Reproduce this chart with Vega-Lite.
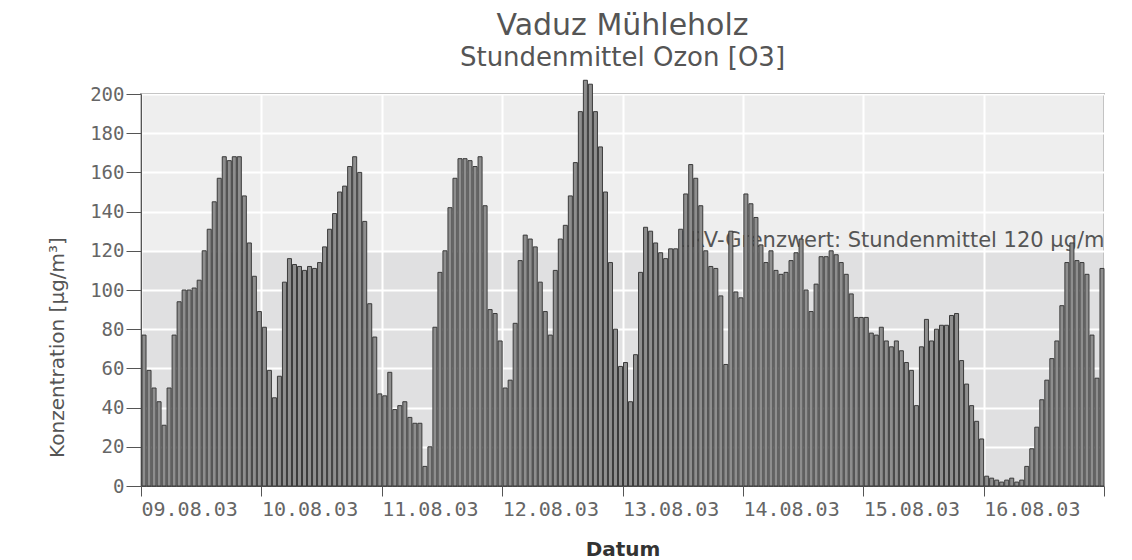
{
  "$schema": "https://vega.github.io/schema/vega-lite/v6.json",
  "width": 963,
  "height": 392,
  "autosize": {"type": "none"},
  "padding": {"left": 141, "top": 94, "right": 28, "bottom": 74},
  "background": "white",
  "title": {
    "text": "Vaduz Mühleholz",
    "subtitle": "Stundenmittel Ozon [O3]",
    "anchor": "middle",
    "font": "DejaVu Sans",
    "fontSize": 30,
    "fontWeight": "normal",
    "color": "#555555",
    "subtitleFont": "DejaVu Sans",
    "subtitleFontSize": 26,
    "subtitleColor": "#555555",
    "subtitlePadding": 4,
    "offset": 9
  },
  "config": {
    "font": "DejaVu Sans",
    "view": {
      "fill": {"gradient": "linear", "x1": 0, "y1": 0, "x2": 0, "y2": 1,
        "stops": [
          {"offset": 0, "color": "#eeeeee"},
          {"offset": 0.4, "color": "#eeeeee"},
          {"offset": 0.4, "color": "#e0e0e1"},
          {"offset": 1, "color": "#e0e0e1"}
        ]},
      "stroke": "#666666",
      "strokeWidth": 1.5
    }
  },
  "encoding": {
    "x": {
      "field": "t", "type": "temporal", "timeUnit": "yearmonthdatehours", "title": "Datum",
      "scale": {"domain": [{"year": 2003, "month": 8, "date": 9}, {"year": 2003, "month": 8, "date": 17}], "nice": false},
      "axis": {
        "values": [
          {"year": 2003, "month": 8, "date": 9}, {"year": 2003, "month": 8, "date": 10},
          {"year": 2003, "month": 8, "date": 11}, {"year": 2003, "month": 8, "date": 12},
          {"year": 2003, "month": 8, "date": 13}, {"year": 2003, "month": 8, "date": 14},
          {"year": 2003, "month": 8, "date": 15}, {"year": 2003, "month": 8, "date": 16},
          {"year": 2003, "month": 8, "date": 17}
        ],
        "format": "%d.%m.%y",
        "labelExpr": "date(datum.value) == 17 ? '' : timeFormat(datum.value, '%d.%m.%y')",
        "labelAlign": "left",
        "labelBaseline": "top",
        "labelPadding": 3,
        "labelFont": "DejaVu Sans Mono",
        "labelFontSize": 20,
        "labelColor": "#666666",
        "labelFlush": false,
        "labelOverlap": false,
        "tickSize": 10,
        "tickColor": "#555555",
        "domainColor": "#555555",
        "grid": true,
        "gridColor": "#ffffff",
        "gridWidth": 2,
        "titleFontSize": 20,
        "titleFontWeight": "bold",
        "titleColor": "#333333",
        "titlePadding": 20
      }
    },
    "y": {
      "field": "v", "type": "quantitative", "title": "Konzentration [µg/m³]",
      "scale": {"domain": [0, 200], "nice": false},
      "axis": {
        "values": [0, 20, 40, 60, 80, 100, 120, 140, 160, 180, 200],
        "labelOverlap": false,
        "tickSize": 15,
        "tickColor": "#555555",
        "domainColor": "#555555",
        "labelFont": "DejaVu Sans Mono",
        "labelFontSize": 19,
        "labelColor": "#666666",
        "labelPadding": 2,
        "grid": true,
        "gridColor": "#ffffff",
        "gridWidth": 2,
        "titleFontSize": 20,
        "titleFontWeight": "normal",
        "titleColor": "#555555",
        "titlePadding": 22,
        "titleY": 253,
        "titleAlign": "center"
      }
    }
  },
  "layer": [
    {
      "data": {"values": [{"t": "2003-08-17T00:00", "v": 120, "label": "LRV-Grenzwert: Stundenmittel 120 µg/m³"}]},
      "mark": {"type": "text", "align": "right", "baseline": "alphabetic", "dx": 9, "dy": -4, "fontSize": 21, "color": "#555555", "clip": true},
      "encoding": {
        "text": {"field": "label"}
      }
    },
    {
      "data": {"values": [
        {"t":"2003-08-09T00:00","v":77},{"t":"2003-08-09T01:00","v":59},{"t":"2003-08-09T02:00","v":50},{"t":"2003-08-09T03:00","v":43},{"t":"2003-08-09T04:00","v":31},{"t":"2003-08-09T05:00","v":50},{"t":"2003-08-09T06:00","v":77},{"t":"2003-08-09T07:00","v":94},{"t":"2003-08-09T08:00","v":100},{"t":"2003-08-09T09:00","v":100},{"t":"2003-08-09T10:00","v":101},{"t":"2003-08-09T11:00","v":105},{"t":"2003-08-09T12:00","v":120},{"t":"2003-08-09T13:00","v":131},{"t":"2003-08-09T14:00","v":145},{"t":"2003-08-09T15:00","v":157},{"t":"2003-08-09T16:00","v":168},{"t":"2003-08-09T17:00","v":166},{"t":"2003-08-09T18:00","v":168},{"t":"2003-08-09T19:00","v":168},{"t":"2003-08-09T20:00","v":148},{"t":"2003-08-09T21:00","v":124},{"t":"2003-08-09T22:00","v":107},{"t":"2003-08-09T23:00","v":89},
        {"t":"2003-08-10T00:00","v":81},{"t":"2003-08-10T01:00","v":59},{"t":"2003-08-10T02:00","v":45},{"t":"2003-08-10T03:00","v":56},{"t":"2003-08-10T04:00","v":104},{"t":"2003-08-10T05:00","v":116},{"t":"2003-08-10T06:00","v":113},{"t":"2003-08-10T07:00","v":112},{"t":"2003-08-10T08:00","v":110},{"t":"2003-08-10T09:00","v":112},{"t":"2003-08-10T10:00","v":111},{"t":"2003-08-10T11:00","v":114},{"t":"2003-08-10T12:00","v":122},{"t":"2003-08-10T13:00","v":131},{"t":"2003-08-10T14:00","v":139},{"t":"2003-08-10T15:00","v":150},{"t":"2003-08-10T16:00","v":153},{"t":"2003-08-10T17:00","v":163},{"t":"2003-08-10T18:00","v":168},{"t":"2003-08-10T19:00","v":160},{"t":"2003-08-10T20:00","v":135},{"t":"2003-08-10T21:00","v":93},{"t":"2003-08-10T22:00","v":76},{"t":"2003-08-10T23:00","v":47},
        {"t":"2003-08-11T00:00","v":46},{"t":"2003-08-11T01:00","v":58},{"t":"2003-08-11T02:00","v":39},{"t":"2003-08-11T03:00","v":41},{"t":"2003-08-11T04:00","v":43},{"t":"2003-08-11T05:00","v":35},{"t":"2003-08-11T06:00","v":32},{"t":"2003-08-11T07:00","v":32},{"t":"2003-08-11T08:00","v":10},{"t":"2003-08-11T09:00","v":20},{"t":"2003-08-11T10:00","v":81},{"t":"2003-08-11T11:00","v":109},{"t":"2003-08-11T12:00","v":120},{"t":"2003-08-11T13:00","v":142},{"t":"2003-08-11T14:00","v":157},{"t":"2003-08-11T15:00","v":167},{"t":"2003-08-11T16:00","v":167},{"t":"2003-08-11T17:00","v":166},{"t":"2003-08-11T18:00","v":163},{"t":"2003-08-11T19:00","v":168},{"t":"2003-08-11T20:00","v":143},{"t":"2003-08-11T21:00","v":90},{"t":"2003-08-11T22:00","v":88},{"t":"2003-08-11T23:00","v":74},
        {"t":"2003-08-12T00:00","v":50},{"t":"2003-08-12T01:00","v":54},{"t":"2003-08-12T02:00","v":83},{"t":"2003-08-12T03:00","v":115},{"t":"2003-08-12T04:00","v":128},{"t":"2003-08-12T05:00","v":126},{"t":"2003-08-12T06:00","v":122},{"t":"2003-08-12T07:00","v":104},{"t":"2003-08-12T08:00","v":89},{"t":"2003-08-12T09:00","v":77},{"t":"2003-08-12T10:00","v":110},{"t":"2003-08-12T11:00","v":126},{"t":"2003-08-12T12:00","v":133},{"t":"2003-08-12T13:00","v":148},{"t":"2003-08-12T14:00","v":165},{"t":"2003-08-12T15:00","v":191},{"t":"2003-08-12T16:00","v":207},{"t":"2003-08-12T17:00","v":205},{"t":"2003-08-12T18:00","v":191},{"t":"2003-08-12T19:00","v":173},{"t":"2003-08-12T20:00","v":150},{"t":"2003-08-12T21:00","v":114},{"t":"2003-08-12T22:00","v":80},{"t":"2003-08-12T23:00","v":61},
        {"t":"2003-08-13T00:00","v":63},{"t":"2003-08-13T01:00","v":43},{"t":"2003-08-13T02:00","v":67},{"t":"2003-08-13T03:00","v":109},{"t":"2003-08-13T04:00","v":132},{"t":"2003-08-13T05:00","v":130},{"t":"2003-08-13T06:00","v":124},{"t":"2003-08-13T07:00","v":119},{"t":"2003-08-13T08:00","v":116},{"t":"2003-08-13T09:00","v":121},{"t":"2003-08-13T10:00","v":121},{"t":"2003-08-13T11:00","v":131},{"t":"2003-08-13T12:00","v":149},{"t":"2003-08-13T13:00","v":164},{"t":"2003-08-13T14:00","v":157},{"t":"2003-08-13T15:00","v":143},{"t":"2003-08-13T16:00","v":120},{"t":"2003-08-13T17:00","v":112},{"t":"2003-08-13T18:00","v":111},{"t":"2003-08-13T19:00","v":97},{"t":"2003-08-13T20:00","v":62},{"t":"2003-08-13T21:00","v":130},{"t":"2003-08-13T22:00","v":99},{"t":"2003-08-13T23:00","v":96},
        {"t":"2003-08-14T00:00","v":149},{"t":"2003-08-14T01:00","v":144},{"t":"2003-08-14T02:00","v":137},{"t":"2003-08-14T03:00","v":123},{"t":"2003-08-14T04:00","v":114},{"t":"2003-08-14T05:00","v":120},{"t":"2003-08-14T06:00","v":110},{"t":"2003-08-14T07:00","v":108},{"t":"2003-08-14T08:00","v":109},{"t":"2003-08-14T09:00","v":115},{"t":"2003-08-14T10:00","v":119},{"t":"2003-08-14T11:00","v":126},{"t":"2003-08-14T12:00","v":100},{"t":"2003-08-14T13:00","v":89},{"t":"2003-08-14T14:00","v":103},{"t":"2003-08-14T15:00","v":117},{"t":"2003-08-14T16:00","v":117},{"t":"2003-08-14T17:00","v":120},{"t":"2003-08-14T18:00","v":118},{"t":"2003-08-14T19:00","v":114},{"t":"2003-08-14T20:00","v":108},{"t":"2003-08-14T21:00","v":98},{"t":"2003-08-14T22:00","v":86},{"t":"2003-08-14T23:00","v":86},
        {"t":"2003-08-15T00:00","v":86},{"t":"2003-08-15T01:00","v":78},{"t":"2003-08-15T02:00","v":77},{"t":"2003-08-15T03:00","v":81},{"t":"2003-08-15T04:00","v":74},{"t":"2003-08-15T05:00","v":71},{"t":"2003-08-15T06:00","v":74},{"t":"2003-08-15T07:00","v":69},{"t":"2003-08-15T08:00","v":63},{"t":"2003-08-15T09:00","v":59},{"t":"2003-08-15T10:00","v":41},{"t":"2003-08-15T11:00","v":71},{"t":"2003-08-15T12:00","v":85},{"t":"2003-08-15T13:00","v":74},{"t":"2003-08-15T14:00","v":80},{"t":"2003-08-15T15:00","v":82},{"t":"2003-08-15T16:00","v":82},{"t":"2003-08-15T17:00","v":87},{"t":"2003-08-15T18:00","v":88},{"t":"2003-08-15T19:00","v":64},{"t":"2003-08-15T20:00","v":52},{"t":"2003-08-15T21:00","v":41},{"t":"2003-08-15T22:00","v":33},{"t":"2003-08-15T23:00","v":24},
        {"t":"2003-08-16T00:00","v":5},{"t":"2003-08-16T01:00","v":4},{"t":"2003-08-16T02:00","v":3},{"t":"2003-08-16T03:00","v":2},{"t":"2003-08-16T04:00","v":3},{"t":"2003-08-16T05:00","v":4},{"t":"2003-08-16T06:00","v":2},{"t":"2003-08-16T07:00","v":3},{"t":"2003-08-16T08:00","v":10},{"t":"2003-08-16T09:00","v":19},{"t":"2003-08-16T10:00","v":30},{"t":"2003-08-16T11:00","v":44},{"t":"2003-08-16T12:00","v":54},{"t":"2003-08-16T13:00","v":65},{"t":"2003-08-16T14:00","v":74},{"t":"2003-08-16T15:00","v":92},{"t":"2003-08-16T16:00","v":114},{"t":"2003-08-16T17:00","v":124},{"t":"2003-08-16T18:00","v":115},{"t":"2003-08-16T19:00","v":114},{"t":"2003-08-16T20:00","v":108},{"t":"2003-08-16T21:00","v":77},{"t":"2003-08-16T22:00","v":55},{"t":"2003-08-16T23:00","v":111}
      ]},
      "mark": {"type": "bar", "fill": "#8e8e8e", "stroke": "#3a3a3a", "strokeWidth": 1}
    }
  ]
}
